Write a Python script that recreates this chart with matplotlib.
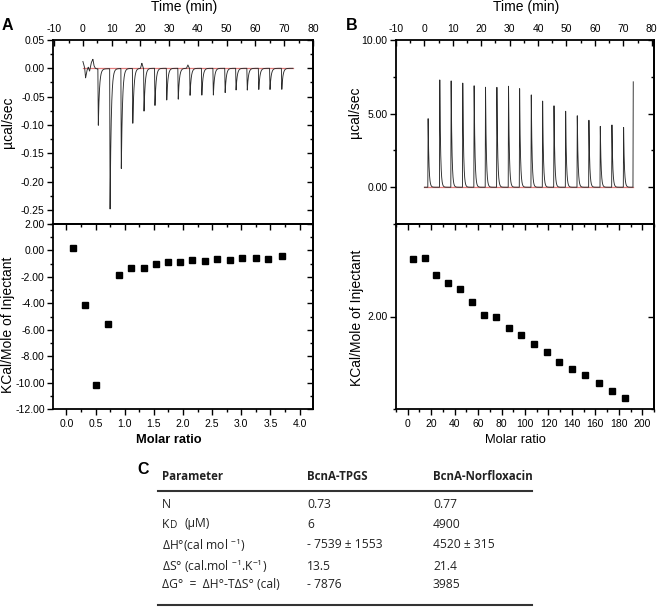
import numpy as np
import matplotlib
matplotlib.use('Agg')
import matplotlib.pyplot as plt
from matplotlib.ticker import MultipleLocator, FixedLocator, FormatStrFormatter
from matplotlib.lines import Line2D

plt.rcParams['font.family'] = ['Liberation Sans', 'DejaVu Sans']
plt.rcParams['axes.unicode_minus'] = False
plt.rcParams['mathtext.default'] = 'regular'

# ---------------- data ----------------
# Panel A (BcnA-TPGS) raw thermogram: injection times (min) and peak depths (ucal/sec)
a_inj_time = [5.2, 9.3, 13.2, 17.2, 21.1, 24.9, 29.0, 33.0, 37.1, 41.2, 45.2, 49.3, 53.1, 57.0, 61.0, 64.9, 69.0]
a_inj_depth = [-0.102, -0.251, -0.180, -0.098, -0.077, -0.067, -0.057, -0.055, -0.048,
               -0.048, -0.048, -0.044, -0.039, -0.039, -0.038, -0.038, -0.038]
# early baseline wobble of trace A
a_wob_time = [0.0, 0.58, 0.93, 1.39, 1.86, 2.32, 2.9, 3.48, 3.83, 4.29, 4.87, 20.0, 20.5, 21.0, 36.0, 36.5, 37.0]
a_wob_val = [0.012, 0.002, -0.017, -0.004, 0.002, -0.005, 0.010, 0.016, 0.005, 0.0, -0.001,
             0.0, 0.009, 0.0, 0.0, 0.006, 0.0]
# Panel A integrated heats
a_ratio = [0.12, 0.32, 0.51, 0.71, 0.91, 1.11, 1.33, 1.53, 1.74, 1.95, 2.15, 2.37, 2.58, 2.80, 3.02, 3.25, 3.46, 3.69]
a_heat = [0.20, -4.13, -10.19, -5.53, -1.89, -1.33, -1.31, -1.06, -0.91, -0.91, -0.75, -0.83,
          -0.68, -0.70, -0.58, -0.60, -0.63, -0.45]

# Panel B (BcnA-Norfloxacin) raw thermogram
b_inj_time = [1.2, 5.3, 9.3, 13.4, 17.4, 21.4, 25.4, 29.5, 33.4, 37.5, 41.5, 45.5, 49.6, 53.7,
              57.8, 61.8, 65.9, 70.0, 73.4]
b_inj_height = [4.80, 7.57, 7.48, 7.27, 7.14, 7.05, 7.02, 7.07, 6.89, 6.50, 6.05, 5.70, 5.36,
                4.95, 4.55, 4.16, 4.25, 4.11, 7.16]
# Panel B integrated heats
b_ratio = [4.5, 14.5, 24.4, 34.3, 44.8, 54.8, 65.3, 75.5, 86.3, 96.7, 107.8, 118.6, 129.4,
           140.4, 151.5, 162.8, 174.2, 185.5]
b_heat = [2.62, 2.63, 2.45, 2.36, 2.30, 2.16, 2.02, 2.00, 1.88, 1.80, 1.70, 1.62, 1.51, 1.43,
          1.37, 1.28, 1.20, 1.12]

# Table C
tab_header = ['Parameter', 'BcnA-TPGS', 'BcnA-Norfloxacin']
tab_param = ['N', None, 'ΔH°(cal mol $^{-1}$)',
             'ΔS° (cal.mol $^{-1}$.K$^{-1}$)', 'ΔG°  =  ΔH°-TΔS° (cal)']
tab_tpgs = ['0.73', '6', '- 7539 ± 1553', '13.5', '- 7876']
tab_norf = ['0.77', '4900', '4520 ± 315', '21.4', '3985']

# ---------------- helpers ----------------
W, H = 660, 607
fig = plt.figure(figsize=(6.6, 6.07), dpi=100)


def box(l, t, r, b):
    return [l / W, 1 - b / H, (r - l) / W, (b - t) / H]


def pulses(t, times, amps, rise, tau):
    y = np.zeros_like(t)
    for t0, a in zip(times, amps):
        s = t - t0
        shape = np.where(s < 0, 0.0, np.where(s < rise, s / rise, np.exp(-(s - rise) / tau)))
        y += a * shape
    return y


def style(ax, xmaj, xmin, ymaj, ymin, top_labels):
    for sp in ax.spines.values():
        sp.set_linewidth(1.3)
    ax.xaxis.set_major_locator(xmaj)
    ax.xaxis.set_minor_locator(xmin)
    ax.yaxis.set_major_locator(ymaj)
    ax.yaxis.set_minor_locator(ymin)
    ax.tick_params(axis='y', which='both', direction='out', left=True, right=False,
                   labelsize=7.5, pad=1.5, width=1.0)
    ax.tick_params(axis='y', which='major', length=4.5)
    ax.tick_params(axis='y', which='minor', length=2.5)
    if top_labels:
        ax.xaxis.tick_top()
        ax.tick_params(axis='x', which='both', direction='in', top=True, bottom=False,
                       labelsize=7.5, pad=4, width=1.0)
    else:
        ax.tick_params(axis='x', which='both', direction='out', top=False, bottom=True,
                       labelsize=7.5, pad=2.5, width=1.0)
    ax.tick_params(axis='x', which='major', length=4.5)
    ax.tick_params(axis='x', which='minor', length=2.5)
    # opposite sides: inward ticks, no labels
    sy = ax.secondary_yaxis('right')
    sy.yaxis.set_major_locator(ymaj)
    sy.yaxis.set_minor_locator(ymin)
    sy.tick_params(which='both', direction='in', labelright=False, width=1.0)
    sy.tick_params(which='major', length=4.5)
    sy.tick_params(which='minor', length=2.5)
    sy.spines['right'].set_linewidth(1.3)
    if not top_labels:
        sx = ax.secondary_xaxis('top')
        sx.xaxis.set_major_locator(xmaj)
        sx.xaxis.set_minor_locator(xmin)
        sx.tick_params(which='both', direction='in', labeltop=False, width=1.0)
        sx.tick_params(which='major', length=4.5)
        sx.tick_params(which='minor', length=2.5)
        sx.spines['top'].set_linewidth(1.3)


axA1 = fig.add_axes(box(53, 40, 313, 224))
axA2 = fig.add_axes(box(53, 224, 313, 409))
axB1 = fig.add_axes(box(396, 40, 654, 224))
axB2 = fig.add_axes(box(396, 224, 654, 409))

trace_col = '#2b2b2b'
base_col = '#e07a7a'

# ---- A top ----
tA = np.linspace(0, 73, 5000)
yA = pulses(tA, a_inj_time, a_inj_depth, 0.15, 0.40) + np.interp(tA, a_wob_time, a_wob_val, left=0, right=0)
axA1.plot([0, 73], [0, 0], color=base_col, lw=0.9, zorder=1)
axA1.plot(tA, yA, color=trace_col, lw=0.65, zorder=2)
axA1.set_xlim(-10.4, 80)
axA1.set_ylim(-0.275, 0.05)
style(axA1, MultipleLocator(10), MultipleLocator(5), MultipleLocator(0.05), MultipleLocator(0.025), True)
axA1.yaxis.set_major_formatter(FormatStrFormatter('%.2f'))

# ---- A bottom ----
axA2.plot(a_ratio, a_heat, 's', color='black', ms=4.6, zorder=3)
axA2.set_xlim(-0.23, 4.23)
axA2.set_ylim(-12, 2)
style(axA2, MultipleLocator(0.5), MultipleLocator(0.25), MultipleLocator(2), MultipleLocator(1), False)
axA2.yaxis.set_major_formatter(FormatStrFormatter('%.2f'))
axA2.xaxis.set_major_formatter(FormatStrFormatter('%.1f'))

# ---- B top ----
tB = np.linspace(0, 73.5, 5000)
yB = pulses(tB, b_inj_time, b_inj_height, 0.10, 0.28)
axB1.plot([0, 73.5], [0, 0], color=base_col, lw=0.9, zorder=1)
axB1.plot(tB, yB, color=trace_col, lw=0.65, zorder=2)
axB1.set_xlim(-10, 80.8)
axB1.set_ylim(-2.5, 10)
style(axB1, MultipleLocator(10), MultipleLocator(5), MultipleLocator(5), MultipleLocator(2.5), True)
axB1.yaxis.set_major_formatter(FormatStrFormatter('%.2f'))

# ---- B bottom ----
axB2.plot(b_ratio, b_heat, 's', color='black', ms=4.6, zorder=3)
axB2.set_xlim(-10, 210)
axB2.set_ylim(1.0, 3.0)
style(axB2, MultipleLocator(20), MultipleLocator(10), FixedLocator([2.0]), FixedLocator([1.0]), False)
axB2.yaxis.set_major_formatter(FormatStrFormatter('%.2f'))

# ---- labels ----
def fx(px):
    return px / W


def fy(py):
    return 1 - py / H

fig.text(fx(184), fy(7), 'Time (min)', ha='center', va='center', fontsize=10)
fig.text(fx(526), fy(7), 'Time (min)', ha='center', va='center', fontsize=10)
fig.text(fx(8), fy(122), 'µcal/sec', ha='center', va='center', rotation=90, fontsize=10)
fig.text(fx(355), fy(112), 'µcal/sec', ha='center', va='center', rotation=90, fontsize=10)
fig.text(fx(8), fy(325), 'KCal/Mole of Injectant', ha='center', va='center', rotation=90, fontsize=10)
fig.text(fx(357), fy(318), 'KCal/Mole of Injectant', ha='center', va='center', rotation=90, fontsize=10)
fig.text(fx(169), fy(440), 'Molar ratio', ha='center', va='center', fontsize=9.3, fontweight='bold')
fig.text(fx(515), fy(440), 'Molar ratio', ha='center', va='center', fontsize=9.3)
fig.text(fx(7), fy(26), 'A', ha='center', va='center', fontsize=11.5, fontweight='bold')
fig.text(fx(352), fy(26), 'B', ha='center', va='center', fontsize=11.5, fontweight='bold')
fig.text(fx(143), fy(470), 'C', ha='center', va='center', fontsize=11.5, fontweight='bold')

# ---- table C ----
tfont = ['Open Sans', 'DejaVu Sans']
tcol = '#222222'
fs = 8.7
col_x = [162, 307, 433]
row_y = [504, 524, 545, 566, 585]
for cx, txt in zip(col_x, tab_header):
    fig.text(fx(cx), fy(477), txt, ha='left', va='center', fontsize=8.3,
             fontweight='bold', family=tfont, color=tcol)
for ry, p, a, b in zip(row_y, tab_param, tab_tpgs, tab_norf):
    if p is None:
        fig.text(fx(162), fy(ry), 'K', ha='left', va='center', fontsize=fs, family=tfont, color=tcol)
        fig.text(fx(170), fy(ry + 1.5), 'D', ha='left', va='center', fontsize=7.3, family=tfont, color=tcol)
        fig.text(fx(185), fy(ry), '(µM)', ha='left', va='center', fontsize=fs, family=tfont, color=tcol)
    else:
        fig.text(fx(162), fy(ry), p, ha='left', va='center', fontsize=fs, family=tfont, color=tcol)
    for cx, txt in zip(col_x[1:], [a, b]):
        fig.text(fx(cx), fy(ry), txt, ha='left', va='center', fontsize=fs,
                 family=tfont, color=tcol)
for ly in [491, 604.5]:
    fig.add_artist(Line2D([fx(158), fx(532)], [fy(ly), fy(ly)], color='#333333', lw=1.5))

fig.savefig('out.png', dpi=100)
